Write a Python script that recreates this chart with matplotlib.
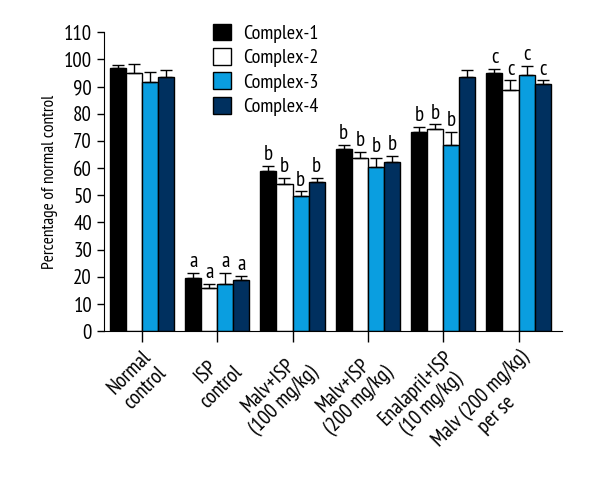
import numpy as np
import matplotlib.pyplot as plt

plt.rcParams['font.family'] = ['PT Sans Narrow', 'DejaVu Sans']

groups = ['Normal\ncontrol', 'ISP\ncontrol', 'Malv+ISP\n(100 mg/kg)',
          'Malv+ISP\n(200 mg/kg)', 'Enalapril+ISP\n(10 mg/kg)', 'Malv (200 mg/kg)\nper se']
series = ['Complex-1', 'Complex-2', 'Complex-3', 'Complex-4']
values = [
    [97.0, 19.7, 59.0, 66.9, 73.3, 95.0],
    [95.0, 15.8, 54.0, 63.6, 74.2, 88.8],
    [91.6, 17.5, 49.7, 60.5, 68.6, 94.1],
    [93.6, 18.7, 54.7, 62.4, 93.6, 91.0],
]
errors = [
    [0.8, 1.7, 1.9, 1.6, 1.9, 1.5],
    [3.4, 1.7, 2.5, 2.4, 1.9, 3.5],
    [3.9, 3.9, 1.8, 3.3, 4.7, 3.6],
    [2.6, 1.7, 1.8, 2.2, 2.6, 1.3],
]
letters = [
    ['', 'a', 'b', 'b', 'b', 'c'],
    ['', 'a', 'b', 'b', 'b', 'c'],
    ['', 'a', 'b', 'b', 'b', 'c'],
    ['', 'a', 'b', 'b', '', 'c'],
]
colors = ['#000000', '#ffffff', '#0a9ee0', '#00305f']


def main():
    fig = plt.figure(figsize=(6, 4.8), dpi=100)
    ax = fig.add_axes([0.173, 0.31, 0.764, 0.623])

    x = np.arange(len(groups))
    width = 0.213
    for i, name in enumerate(series):
        pos = x + (i - 1.5) * width
        ax.bar(pos, values[i], width, color=colors[i], edgecolor='black',
               linewidth=1.0, label=name, zorder=2)
        ax.errorbar(pos, values[i], yerr=[np.zeros(len(groups)), errors[i]],
                    fmt='none', ecolor='black', elinewidth=1.0, capsize=4,
                    capthick=1.0, zorder=3)
        for j, lt in enumerate(letters[i]):
            if lt:
                ax.text(pos[j], values[i][j] + errors[i][j] + 0.6, lt,
                        ha='center', va='bottom', fontsize=15)

    ax.set_xlim(-0.505, 5.58)
    ax.set_ylim(0, 110)
    ax.set_yticks(range(0, 111, 10))
    ax.tick_params(axis='y', labelsize=15, direction='out', length=5, width=1)
    ax.set_xticks(x)
    ax.set_xticklabels(groups, rotation=45, ha='right', rotation_mode='anchor',
                       multialignment='center', fontsize=15)
    ax.tick_params(axis='x', direction='out', length=8, width=1)
    ax.set_ylabel('Percentage of normal control', fontsize=12.5)
    for s in ['top', 'right']:
        ax.spines[s].set_visible(False)

    ax.legend(loc='upper left', bbox_to_anchor=(0.22, 1.055), frameon=False,
              fontsize=14.5, handlelength=0.9, handleheight=0.9,
              labelspacing=0.25, handletextpad=0.6, borderaxespad=0)

    fig.savefig('out.png', dpi=100)


if __name__ == '__main__':
    main()
